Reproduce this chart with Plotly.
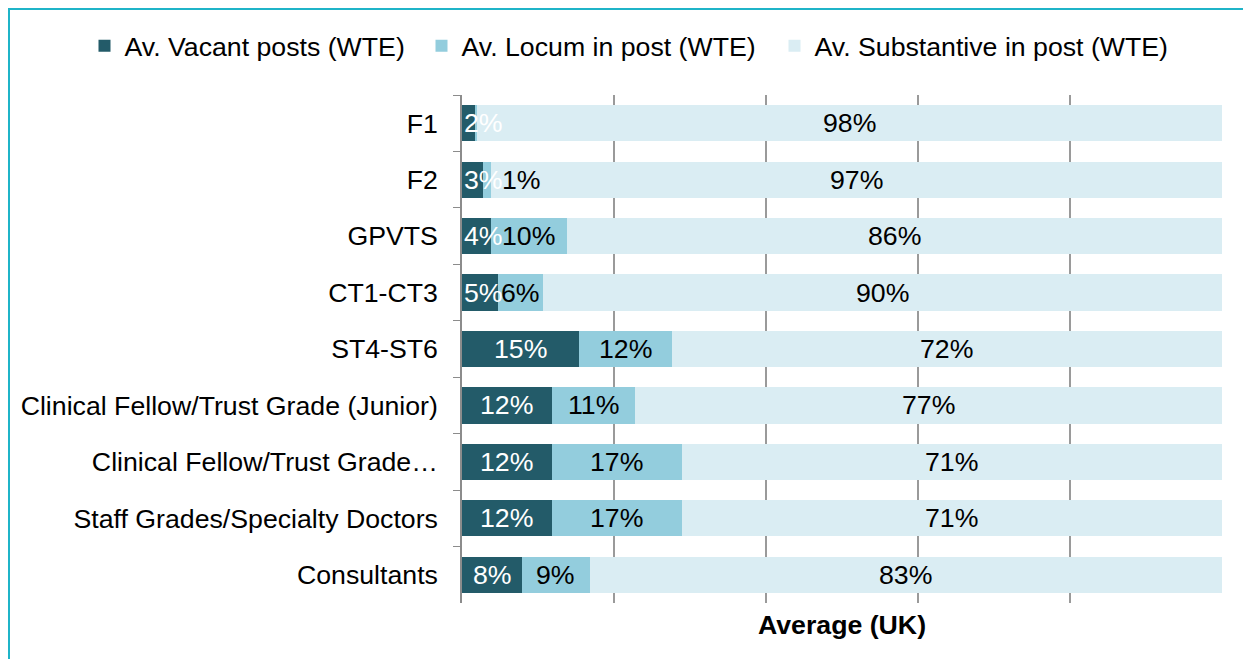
import plotly.graph_objects as go

categories = ["F1", "F2", "GPVTS", "CT1-CT3", "ST4-ST6",
              "Clinical Fellow/Trust Grade (Junior)", "Clinical Fellow/Trust Grade…",
              "Staff Grades/Specialty Doctors", "Consultants"]
vacant = [1.8, 2.8, 3.8, 4.7, 15.4, 11.8, 11.8, 11.8, 7.9]
locum = [0.2, 1.0, 10.0, 5.9, 12.2, 11.0, 17.1, 17.1, 8.9]
substantive = [98.0, 96.2, 86.2, 89.4, 72.4, 77.2, 71.1, 71.1, 83.2]
labels_vacant = ["2%", "3%", "4%", "5%", "15%", "12%", "12%", "12%", "8%"]
labels_locum = ["", "1%", "10%", "6%", "12%", "11%", "17%", "17%", "9%"]
labels_subst = ["98%", "97%", "86%", "90%", "72%", "77%", "71%", "71%", "83%"]

FONT = "Liberation Sans, Arial, sans-serif"
FS = 26.7
PX_PER_UNIT = 7.6  # plot width 760px over 0..100
PLOT_L, PLOT_W = 462, 760

series = [
    ("Av. Vacant posts (WTE)", vacant, labels_vacant, "#235b69", "white", "legend", 125),
    ("Av. Locum in post (WTE)", locum, labels_locum, "#93cddd", "black", "legend2", 462),
    ("Av. Substantive in post (WTE)", substantive, labels_subst, "#daedf3", "black", "legend3", 815),
]

fig = go.Figure()
for name, vals, labs, color, tcolor, leg, _ in series:
    fig.add_trace(go.Bar(
        y=categories, x=vals, name=name, orientation="h",
        marker=dict(color=color, line=dict(width=0)),
        legend=leg, showlegend=True, hoverinfo="skip",
    ))

def text_width(s):
    w = 0
    for ch in s:
        w += 0.889 if ch == "%" else 0.556
    return w * FS

# data labels placed at segment centres (or next to tiny segments)
cum = [0.0] * len(categories)
for si, (name, vals, labs, color, tcolor, _, _) in enumerate(series):
    for i, (v, lab) in enumerate(zip(vals, labs)):
        start = cum[i]
        end = start + v
        cum[i] = end
        if not lab:
            continue
        tw = text_width(lab)
        shift = 0
        if v * PX_PER_UNIT >= tw:
            x, anchor = (start + end) / 2, "center"
        elif si == 0:
            x, anchor = start, "left"
        else:
            x, anchor, shift = end, "left", 9
        fig.add_annotation(x=x, y=categories[i], text=lab, showarrow=False,
                           xanchor=anchor, yanchor="middle", xshift=shift,
                           font=dict(family=FONT, size=FS, color=tcolor))

legends = {}
for name, vals, labs, color, tcolor, leg, text_x in series:
    legends[leg] = dict(orientation="h", xref="paper", yref="paper",
                        x=(text_x - 40.5 - PLOT_L) / PLOT_W, y=1 + (95 - 46) / 508,
                        xanchor="left", yanchor="middle", bgcolor="rgba(0,0,0,0)",
                        font=dict(family=FONT, size=FS, color="black"), itemwidth=30,
                        visible=True)

fig.update_layout(
    barmode="stack", bargap=0.36,
    width=1243, height=659,
    margin=dict(l=PLOT_L, r=21, t=95, b=56),
    paper_bgcolor="white", plot_bgcolor="white",
    showlegend=True,
    font=dict(family=FONT, size=FS, color="black"),
    **legends,
)
fig.update_yaxes(autorange="reversed", tickson="boundaries", ticks="outside",
                 ticklen=7, tickcolor="#8c8c8c", showline=True, linecolor="#8c8c8c",
                 linewidth=1.5, showgrid=False, ticklabelstandoff=17,
                 tickfont=dict(family=FONT, size=FS, color="black"))
fig.update_xaxes(range=[0, 100], dtick=20, showticklabels=False, ticks="",
                 showgrid=True, gridcolor="#9a9a9a",
                 gridwidth=1.5, showline=False, zeroline=False,
                 title=dict(text="<b>Average (UK)</b>", standoff=12,
                            font=dict(family=FONT, size=FS, color="black")))
fig.add_shape(type="rect", xref="paper", yref="paper",
              x0=(9 - PLOT_L) / PLOT_W, x1=1.2, y0=-0.3, y1=1 + (95 - 9) / 508,
              line=dict(color="#1fb4c8", width=2), layer="above")

fig.write_html("out.html", config={"displayModeBar": False},
               post_script="document.body.style.margin='0';")
